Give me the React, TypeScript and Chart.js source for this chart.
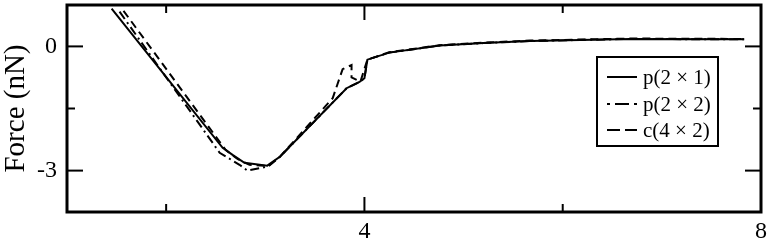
import { useEffect, useRef } from "react";
import { Chart, registerables } from "chart.js";

Chart.register(...registerables);

const seriesNames = ["p(2 × 1)", "p(2 × 2)", "c(4 × 2)"];

const p21X = [1.45, 2.57, 2.67, 2.79, 3.02, 3.15, 3.82, 3.95, 4.0, 4.03, 4.25, 4.76, 5.2, 5.67, 6.68, 7.83];
const p21Y = [0.91, -2.45, -2.62, -2.81, -2.88, -2.66, -1.01, -0.86, -0.77, -0.32, -0.15, 0.02, 0.08, 0.13, 0.18, 0.17];

const p22X = [1.53, 2.54, 2.74, 2.82, 3.03, 3.15, 3.82, 3.95, 4.0, 4.03, 4.25, 4.76, 5.2, 5.67, 6.68, 7.83];
const p22Y = [0.84, -2.57, -2.86, -3.0, -2.9, -2.66, -1.01, -0.86, -0.77, -0.32, -0.15, 0.02, 0.08, 0.13, 0.18, 0.17];

const c42X = [1.57, 2.6, 2.72, 2.84, 3.03, 3.15, 3.68, 3.78, 3.87, 3.87, 3.96, 4.03, 4.25, 4.76, 5.2, 5.67, 6.68, 7.83];
const c42Y = [0.86, -2.5, -2.72, -2.86, -2.89, -2.66, -1.25, -0.55, -0.45, -0.75, -0.85, -0.32, -0.14, 0.03, 0.09, 0.14, 0.19, 0.18];

const xMajorTicks = [4, 8];
const xMinorTicks = [2, 6];
const yMajorTicks = [0, -3];
const yMinorTicks = [-1.5];
const yTitle = "Force (nN)";

const FONT = "'Liberation Serif', 'Times New Roman', serif";

export default function App() {
  const ref = useRef<HTMLCanvasElement>(null);

  useEffect(() => {
    const toPts = (xs: number[], ys: number[]) => xs.map((x, i) => ({ x, y: ys[i] }));
    const dashes = [[], [9, 4, 2, 4], [8, 5]];
    const legendDashes = [[], [3, 5, 14, 5, 3, 60], [13, 5, 12, 60]];

    const framePlugin = {
      id: "frame",
      afterDraw(chart: any) {
        const { ctx, chartArea } = chart;
        const { left, right, top, bottom } = chartArea;
        const xs = chart.scales.x;
        const ys = chart.scales.y;
        ctx.save();
        ctx.strokeStyle = "#000";
        ctx.lineWidth = 2;
        const tick = (x1: number, y1: number, x2: number, y2: number) => {
          ctx.beginPath();
          ctx.moveTo(x1, y1);
          ctx.lineTo(x2, y2);
          ctx.stroke();
        };
        xMajorTicks.forEach((v) => {
          const p = xs.getPixelForValue(v);
          tick(p, bottom, p, bottom - 15);
          tick(p, top, p, top + 15);
        });
        xMinorTicks.forEach((v) => {
          const p = xs.getPixelForValue(v);
          tick(p, bottom, p, bottom - 8);
          tick(p, top, p, top + 8);
        });
        yMajorTicks.forEach((v) => {
          const p = ys.getPixelForValue(v);
          tick(left, p, left + 16, p);
          tick(right, p, right - 16, p);
        });
        yMinorTicks.forEach((v) => {
          const p = ys.getPixelForValue(v);
          tick(left, p, left + 8, p);
          tick(right, p, right - 8, p);
        });
        ctx.lineWidth = 3;
        ctx.strokeRect(left, top, right - left, bottom - top);

        // legend
        const bx = 597, by = 57, bw = 121, bh = 89;
        ctx.fillStyle = "#fff";
        ctx.fillRect(bx, by, bw, bh);
        ctx.lineWidth = 2;
        ctx.strokeRect(bx, by, bw, bh);
        const rows = [77, 104, 130];
        ctx.font = `21px ${FONT}`;
        ctx.textBaseline = "middle";
        ctx.textAlign = "left";
        ctx.fillStyle = "#000";
        seriesNames.forEach((name, i) => {
          ctx.setLineDash(legendDashes[i]);
          ctx.lineWidth = 2;
          ctx.beginPath();
          ctx.moveTo(607, rows[i]);
          ctx.lineTo(637, rows[i]);
          ctx.stroke();
          ctx.setLineDash([]);
          ctx.fillText(name, 643, rows[i] + 1);
        });
        ctx.restore();
      },
    };

    const series = [toPts(p21X, p21Y), toPts(p22X, p22Y), toPts(c42X, c42Y)];

    const chart = new Chart(ref.current as HTMLCanvasElement, {
      type: "line",
      data: {
        datasets: series.map((d, i) => ({
          label: seriesNames[i],
          data: d,
          borderColor: "#000",
          borderWidth: 2,
          borderDash: dashes[i],
          pointRadius: 0,
          tension: 0,
          fill: false,
        })),
      },
      options: {
        responsive: false,
        animation: false,
        devicePixelRatio: 1,
        layout: { padding: { left: 0, top: 5, right: 6, bottom: 0 } },
        plugins: { legend: { display: false }, tooltip: { enabled: false } },
        scales: {
          x: {
            type: "linear",
            min: 1,
            max: 8,
            afterBuildTicks: (s: any) => {
              s.ticks = xMajorTicks.map((v) => ({ value: v }));
            },
            afterFit: (s: any) => {
              s.height = 32;
              s.paddingLeft = 0;
              s.paddingRight = 0;
            },
            grid: { display: false, drawTicks: false },
            border: { display: false },
            ticks: {
              padding: 5,
              color: "#000",
              maxRotation: 0,
              autoSkip: false,
              font: { family: FONT, size: 24 },
            },
          },
          y: {
            type: "linear",
            min: -4,
            max: 1,
            afterBuildTicks: (s: any) => {
              s.ticks = yMajorTicks.map((v) => ({ value: v }));
            },
            afterFit: (s: any) => {
              s.width = 67;
              s.paddingTop = 0;
              s.paddingBottom = 0;
            },
            grid: { display: false, drawTicks: false },
            border: { display: false },
            ticks: {
              padding: 10,
              color: "#000",
              autoSkip: false,
              font: { family: FONT, size: 24 },
            },
            title: {
              display: true,
              text: yTitle,
              color: "#000",
              padding: 0,
              font: { family: FONT, size: 29, lineHeight: 1.1 },
            },
          },
        },
      },
      plugins: [framePlugin],
    } as any);
    return () => chart.destroy();
  }, []);

  return (
    <div style={{ position: "absolute", left: 0, top: 0, width: 767, height: 244, background: "#fff" }}>
      <canvas ref={ref} width={767} height={244} style={{ display: "block" }} />
    </div>
  );
}
